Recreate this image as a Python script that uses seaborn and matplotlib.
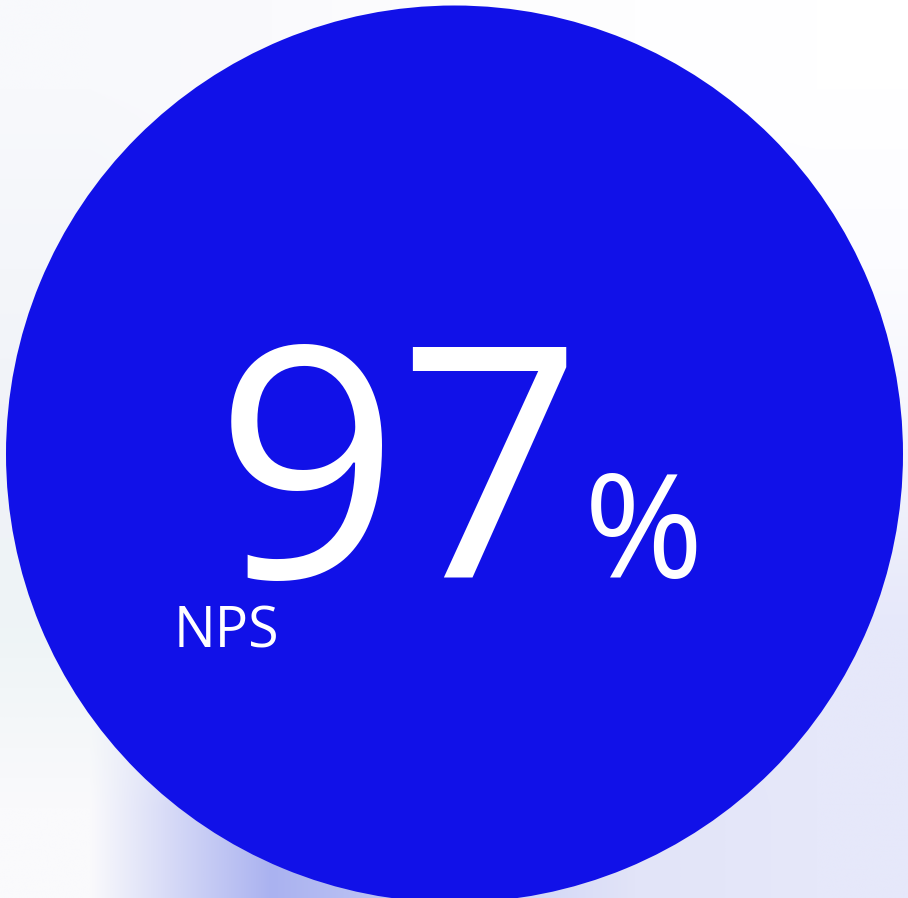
import numpy as np
import matplotlib
matplotlib.use("Agg")
import matplotlib.pyplot as plt
import seaborn as sns

# Data
metric_label = "NPS"
metric_value = 97
metric_unit = "%"
circle_share = [100]
circle_color = "#1111E8"

sns.set_theme(style="white")
plt.rcParams["font.family"] = ["Open Sans", "DejaVu Sans"]

fig = plt.figure(figsize=(9.08, 8.98), dpi=100)
bg = fig.add_axes([0, 0, 1, 1])
bg.set_axis_off()
# soft blurred backdrop (styling only)
grid = np.array([
    [[248, 249, 252], [250, 250, 253], [253, 253, 254], [254, 254, 255], [255, 255, 255]],
    [[244, 246, 250], [248, 249, 252], [250, 250, 254], [252, 252, 255], [252, 252, 255]],
    [[240, 242, 248], [244, 245, 250], [244, 245, 252], [244, 245, 252], [244, 245, 252]],
    [[238, 244, 246], [236, 238, 248], [228, 230, 250], [230, 232, 250], [230, 232, 250]],
    [[250, 250, 252], [170, 178, 240], [200, 206, 245], [226, 228, 248], [230, 232, 250]],
], dtype=float) / 255.0
bg.imshow(grid, extent=[0, 1, 0, 1], aspect="auto", interpolation="bilinear", origin="upper")
bg.set_xlim(0, 1)
bg.set_ylim(0, 1)

ax = fig.add_axes([0, 0, 1, 1])
ax.set_axis_off()
ax.patch.set_alpha(0)

cx, cy, r = 454.5, 454, 448.5
ax.pie(circle_share, colors=[circle_color], radius=r, center=(cx, cy),
       wedgeprops=dict(linewidth=0), frame=True)
ax.set_xlim(0, 908)
ax.set_ylim(898, 0)
ax.set_aspect("equal")
ax.set_axis_off()

ax.text(215, 578, str(metric_value), color="white", fontsize=232,
        ha="left", va="baseline")
ax.text(584, 578, metric_unit, color="white", fontsize=104,
        ha="left", va="baseline")
ax.text(174, 647, metric_label, color="white", fontsize=40,
        ha="left", va="baseline")

fig.savefig("out.png", dpi=100)
